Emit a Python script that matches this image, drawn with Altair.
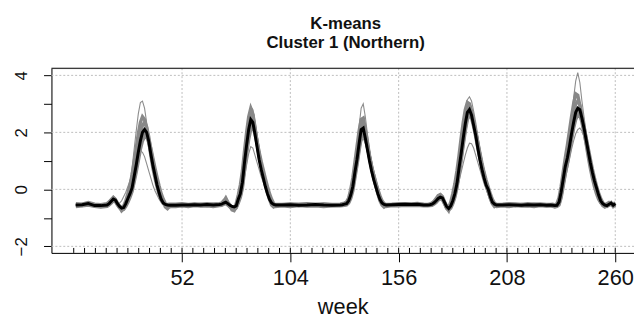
import altair as alt
import pandas as pd

# weeks at which the series were read (weekly in the epidemic seasons, sparser on the flat baseline)
weeks = ([1, 4, 7, 10, 13, 16] + list(range(17, 47)) +
         [49, 52, 55, 58, 61, 64, 67, 70] + list(range(71, 98)) +
         [100, 104, 108, 112, 116, 120, 124] + list(range(128, 151)) +
         [153, 156, 159, 162, 165, 168] + list(range(170, 204)) +
         [206, 209, 212, 215, 218, 221, 224, 227] + list(range(229, 261)))

# cluster centre (black line)
centre = [
    -0.55, -0.54, -0.50, -0.57, -0.57, -0.55,
    -0.50, -0.42, -0.34, -0.38, -0.50, -0.60, -0.66, -0.64, -0.50, -0.32, -0.15, 0.05, 0.45, 0.85, 1.30, 1.70, 2.00, 2.10, 2.00, 1.70, 1.25, 0.85, 0.50, 0.15, -0.12, -0.35, -0.48, -0.53, -0.55, -0.56,
    -0.56, -0.55, -0.55, -0.54, -0.55, -0.53, -0.55, -0.53,
    -0.52, -0.48, -0.45, -0.50, -0.56, -0.60, -0.62, -0.58, -0.35, -0.15, 0.25, 0.95, 1.55, 2.10, 2.45, 2.35, 1.95, 1.50, 1.05, 0.70, 0.40, 0.10, -0.15, -0.35, -0.48, -0.53, -0.55,
    -0.55, -0.54, -0.56, -0.55, -0.53, -0.55, -0.56,
    -0.55, -0.54, -0.52, -0.50, -0.40, -0.20, 0.10, 0.60, 1.05, 1.60, 2.10, 2.15, 1.80, 1.40, 1.00, 0.65, 0.35, 0.10, -0.15, -0.35, -0.48, -0.53, -0.55,
    -0.54, -0.53, -0.52, -0.53, -0.52, -0.55,
    -0.55, -0.54, -0.52, -0.47, -0.40, -0.32, -0.27, -0.30, -0.45, -0.60, -0.67, -0.58, -0.40, -0.15, 0.20, 0.75, 1.25, 1.80, 2.30, 2.70, 2.80, 2.60, 2.25, 1.90, 1.45, 1.05, 0.70, 0.40, 0.15, 0.00, -0.25, -0.45, -0.52, -0.55,
    -0.55, -0.54, -0.55, -0.56, -0.54, -0.55, -0.54, -0.56,
    -0.55, -0.56, -0.57, -0.56, -0.45, -0.10, 0.35, 0.80, 1.10, 1.50, 1.95, 2.35, 2.70, 2.85, 2.80, 2.50, 2.15, 1.75, 1.35, 0.95, 0.60, 0.30, 0.05, -0.20, -0.40, -0.50, -0.55, -0.57, -0.52, -0.48, -0.56, -0.50,
]

# cluster members (grey lines)
member_a = [
    -0.52, -0.50, -0.48, -0.53, -0.55, -0.52,
    -0.45, -0.35, -0.25, -0.30, -0.45, -0.55, -0.60, -0.55, -0.35, -0.05, 0.25, 0.75, 1.40, 2.05, 2.65, 3.05, 3.10, 2.85, 2.35, 1.75, 1.20, 0.75, 0.35, 0.05, -0.20, -0.40, -0.50, -0.55, -0.52, -0.54,
    -0.50, -0.52, -0.55, -0.50, -0.52, -0.55, -0.50, -0.48,
    -0.45, -0.38, -0.30, -0.40, -0.52, -0.58, -0.62, -0.55, -0.25, 0.05, 0.50, 1.20, 1.90, 2.55, 2.90, 2.80, 2.35, 1.85, 1.35, 0.95, 0.55, 0.20, -0.10, -0.32, -0.45, -0.52, -0.53,
    -0.52, -0.50, -0.55, -0.52, -0.50, -0.54, -0.52,
    -0.52, -0.50, -0.48, -0.45, -0.32, -0.05, 0.35, 0.95, 1.55, 2.20, 2.85, 3.00, 2.55, 1.95, 1.40, 0.90, 0.50, 0.15, -0.10, -0.32, -0.46, -0.52, -0.53,
    -0.50, -0.52, -0.50, -0.48, -0.50, -0.52,
    -0.52, -0.50, -0.47, -0.40, -0.30, -0.20, -0.15, -0.22, -0.40, -0.55, -0.62, -0.50, -0.25, 0.05, 0.45, 1.05, 1.65, 2.25, 2.80, 3.15, 3.25, 3.10, 2.75, 2.35, 1.90, 1.45, 1.05, 0.65, 0.35, 0.05, -0.20, -0.38, -0.48, -0.52,
    -0.50, -0.52, -0.55, -0.50, -0.52, -0.50, -0.53, -0.50,
    -0.52, -0.54, -0.55, -0.52, -0.38, 0.00, 0.50, 1.00, 1.45, 1.95, 2.55, 3.20, 3.80, 4.10, 3.75, 3.10, 2.55, 2.00, 1.50, 1.05, 0.65, 0.30, 0.02, -0.22, -0.40, -0.50, -0.54, -0.55, -0.50, -0.45, -0.52, -0.48,
]
member_b = [
    -0.58, -0.57, -0.55, -0.60, -0.58, -0.57,
    -0.55, -0.50, -0.45, -0.45, -0.50, -0.48, -0.40, -0.25, -0.10, 0.10, 0.30, 0.55, 0.80, 1.05, 1.25, 1.35, 1.30, 1.15, 0.90, 0.65, 0.40, 0.15, -0.05, -0.20, -0.35, -0.45, -0.52, -0.56, -0.58, -0.57,
    -0.57, -0.58, -0.56, -0.58, -0.57, -0.58, -0.56, -0.55,
    -0.55, -0.52, -0.50, -0.52, -0.56, -0.58, -0.60, -0.55, -0.40, -0.20, 0.10, 0.45, 0.85, 1.25, 1.50, 1.45, 1.20, 0.95, 0.70, 0.45, 0.25, 0.05, -0.15, -0.32, -0.45, -0.53, -0.56,
    -0.57, -0.56, -0.58, -0.57, -0.55, -0.57, -0.58,
    -0.57, -0.56, -0.55, -0.53, -0.45, -0.30, 0.00, 0.40, 0.85, 1.30, 1.65, 1.80, 1.60, 1.30, 1.00, 0.70, 0.40, 0.15, -0.10, -0.30, -0.45, -0.53, -0.57,
    -0.56, -0.55, -0.55, -0.56, -0.55, -0.57,
    -0.57, -0.56, -0.55, -0.50, -0.45, -0.38, -0.35, -0.40, -0.50, -0.62, -0.68, -0.60, -0.45, -0.25, 0.00, 0.30, 0.60, 0.90, 1.20, 1.45, 1.62, 1.60, 1.45, 1.20, 0.95, 0.70, 0.45, 0.20, 0.00, -0.18, -0.35, -0.48, -0.55, -0.57,
    -0.57, -0.56, -0.58, -0.57, -0.55, -0.57, -0.58, -0.56,
    -0.57, -0.58, -0.57, -0.55, -0.50, -0.30, 0.00, 0.35, 0.70, 1.05, 1.40, 1.70, 1.95, 2.10, 2.15, 2.05, 1.85, 1.60, 1.35, 1.05, 0.75, 0.45, 0.15, -0.10, -0.30, -0.45, -0.53, -0.57, -0.55, -0.52, -0.56, -0.53,
]
member_c = [
    -0.50, -0.52, -0.46, -0.52, -0.54, -0.50,
    -0.44, -0.36, -0.28, -0.35, -0.48, -0.58, -0.65, -0.58, -0.40, -0.15, 0.15, 0.50, 0.95, 1.45, 1.95, 2.35, 2.55, 2.45, 2.15, 1.70, 1.20, 0.75, 0.40, 0.10, -0.18, -0.38, -0.50, -0.55, -0.53, -0.52,
    -0.52, -0.50, -0.53, -0.51, -0.52, -0.50, -0.52, -0.50,
    -0.48, -0.42, -0.30, -0.45, -0.55, -0.62, -0.66, -0.50, -0.20, 0.15, 0.65, 1.35, 2.00, 2.55, 2.85, 2.65, 2.20, 1.70, 1.25, 0.85, 0.50, 0.20, -0.08, -0.30, -0.45, -0.52, -0.53,
    -0.53, -0.51, -0.52, -0.50, -0.52, -0.51, -0.53,
    -0.52, -0.50, -0.48, -0.44, -0.30, 0.00, 0.40, 0.95, 1.50, 2.05, 2.45, 2.50, 2.10, 1.65, 1.20, 0.80, 0.45, 0.15, -0.10, -0.32, -0.45, -0.52, -0.53,
    -0.52, -0.50, -0.50, -0.51, -0.49, -0.52,
    -0.53, -0.51, -0.48, -0.42, -0.32, -0.22, -0.18, -0.25, -0.42, -0.58, -0.65, -0.45, -0.15, 0.20, 0.65, 1.20, 1.80, 2.35, 2.80, 3.05, 3.00, 2.75, 2.40, 2.00, 1.55, 1.15, 0.80, 0.48, 0.20, -0.05, -0.28, -0.42, -0.50, -0.53,
    -0.52, -0.50, -0.51, -0.53, -0.50, -0.52, -0.51, -0.53,
    -0.53, -0.52, -0.54, -0.50, -0.30, 0.10, 0.60, 1.10, 1.55, 2.05, 2.55, 3.00, 3.35, 3.30, 2.95, 2.50, 2.05, 1.60, 1.15, 0.75, 0.40, 0.10, -0.15, -0.35, -0.47, -0.53, -0.54, -0.50, -0.46, -0.50, -0.52, -0.47,
]
member_d = [
    -0.60, -0.58, -0.55, -0.60, -0.62, -0.60,
    -0.55, -0.48, -0.40, -0.42, -0.55, -0.65, -0.72, -0.70, -0.60, -0.45, -0.28, -0.08, 0.25, 0.60, 1.00, 1.40, 1.70, 1.85, 1.85, 1.65, 1.30, 0.95, 0.60, 0.28, 0.00, -0.25, -0.42, -0.55, -0.62, -0.60,
    -0.60, -0.58, -0.60, -0.57, -0.59, -0.58, -0.60, -0.57,
    -0.56, -0.52, -0.50, -0.55, -0.62, -0.68, -0.70, -0.65, -0.48, -0.28, 0.05, 0.65, 1.25, 1.75, 2.10, 2.20, 1.95, 1.60, 1.20, 0.85, 0.55, 0.25, 0.00, -0.22, -0.42, -0.55, -0.60,
    -0.58, -0.60, -0.57, -0.59, -0.58, -0.60, -0.58,
    -0.58, -0.57, -0.56, -0.55, -0.48, -0.32, -0.05, 0.40, 0.85, 1.35, 1.80, 1.95, 1.80, 1.50, 1.15, 0.80, 0.50, 0.22, -0.05, -0.28, -0.45, -0.55, -0.60,
    -0.57, -0.58, -0.56, -0.57, -0.56, -0.58,
    -0.58, -0.57, -0.56, -0.52, -0.46, -0.38, -0.33, -0.36, -0.50, -0.66, -0.72, -0.66, -0.50, -0.28, 0.05, 0.50, 1.00, 1.55, 2.05, 2.45, 2.60, 2.50, 2.20, 1.85, 1.45, 1.08, 0.72, 0.42, 0.15, -0.08, -0.30, -0.48, -0.57, -0.60,
    -0.58, -0.60, -0.57, -0.59, -0.58, -0.60, -0.57, -0.59,
    -0.58, -0.60, -0.62, -0.60, -0.55, -0.30, 0.10, 0.55, 0.90, 1.30, 1.75, 2.15, 2.45, 2.60, 2.60, 2.35, 2.00, 1.65, 1.30, 0.90, 0.55, 0.25, -0.02, -0.25, -0.42, -0.52, -0.58, -0.60, -0.56, -0.52, -0.60, -0.55,
]
member_e = [
    -0.53, -0.57, -0.52, -0.55, -0.60, -0.53,
    -0.48, -0.38, -0.30, -0.40, -0.52, -0.62, -0.75, -0.68, -0.52, -0.30, -0.10, 0.15, 0.60, 1.05, 1.55, 1.95, 2.25, 2.35, 2.20, 1.85, 1.40, 0.98, 0.62, 0.28, -0.02, -0.28, -0.45, -0.62, -0.68, -0.60,
    -0.58, -0.53, -0.56, -0.52, -0.57, -0.55, -0.52, -0.55,
    -0.50, -0.40, -0.35, -0.48, -0.60, -0.72, -0.75, -0.62, -0.32, -0.05, 0.40, 1.10, 1.75, 2.35, 2.70, 2.60, 2.15, 1.65, 1.18, 0.80, 0.48, 0.15, -0.12, -0.35, -0.55, -0.62, -0.58,
    -0.55, -0.52, -0.57, -0.53, -0.56, -0.52, -0.55,
    -0.55, -0.53, -0.50, -0.48, -0.36, -0.12, 0.22, 0.75, 1.25, 1.80, 2.30, 2.40, 2.00, 1.55, 1.10, 0.72, 0.40, 0.12, -0.15, -0.40, -0.55, -0.62, -0.57,
    -0.53, -0.56, -0.52, -0.55, -0.53, -0.56,
    -0.56, -0.53, -0.50, -0.44, -0.36, -0.25, -0.20, -0.28, -0.48, -0.65, -0.75, -0.55, -0.32, -0.05, 0.35, 0.95, 1.50, 2.05, 2.55, 2.90, 2.95, 2.72, 2.35, 2.00, 1.60, 1.20, 0.85, 0.52, 0.22, -0.05, -0.32, -0.50, -0.60, -0.55,
    -0.55, -0.52, -0.57, -0.53, -0.56, -0.52, -0.55, -0.58,
    -0.55, -0.58, -0.60, -0.58, -0.45, -0.12, 0.40, 0.90, 1.30, 1.75, 2.20, 2.65, 3.00, 3.10, 2.95, 2.60, 2.20, 1.80, 1.40, 0.98, 0.60, 0.28, 0.00, -0.25, -0.45, -0.57, -0.62, -0.58, -0.50, -0.46, -0.58, -0.50,
]
member_f = [
    -0.57, -0.53, -0.52, -0.58, -0.55, -0.58,
    -0.52, -0.45, -0.38, -0.40, -0.52, -0.62, -0.68, -0.66, -0.55, -0.38, -0.20, 0.00, 0.35, 0.75, 1.15, 1.55, 1.85, 2.00, 1.95, 1.75, 1.45, 1.10, 0.75, 0.42, 0.12, -0.15, -0.35, -0.50, -0.58, -0.57,
    -0.55, -0.57, -0.54, -0.56, -0.53, -0.57, -0.55, -0.56,
    -0.53, -0.50, -0.48, -0.52, -0.58, -0.63, -0.65, -0.62, -0.42, -0.22, 0.15, 0.80, 1.40, 1.95, 2.30, 2.30, 2.05, 1.70, 1.32, 0.98, 0.68, 0.38, 0.10, -0.15, -0.35, -0.50, -0.57,
    -0.56, -0.53, -0.55, -0.57, -0.54, -0.56, -0.57,
    -0.56, -0.55, -0.53, -0.52, -0.44, -0.25, 0.05, 0.50, 0.95, 1.45, 1.95, 2.05, 1.85, 1.52, 1.15, 0.82, 0.52, 0.25, 0.00, -0.22, -0.40, -0.50, -0.56,
    -0.55, -0.54, -0.53, -0.54, -0.55, -0.54,
    -0.55, -0.55, -0.53, -0.48, -0.42, -0.35, -0.30, -0.33, -0.46, -0.62, -0.70, -0.62, -0.45, -0.20, 0.12, 0.62, 1.12, 1.65, 2.15, 2.55, 2.70, 2.62, 2.35, 2.02, 1.65, 1.28, 0.92, 0.60, 0.32, 0.08, -0.15, -0.35, -0.48, -0.55,
    -0.56, -0.54, -0.56, -0.55, -0.57, -0.54, -0.56, -0.55,
    -0.56, -0.57, -0.58, -0.57, -0.50, -0.22, 0.22, 0.68, 1.02, 1.40, 1.85, 2.25, 2.58, 2.72, 2.72, 2.48, 2.18, 1.82, 1.45, 1.08, 0.72, 0.40, 0.12, -0.12, -0.32, -0.46, -0.55, -0.58, -0.53, -0.50, -0.57, -0.52,
]

outliers = {"a": member_a, "b": member_b}
core = {"c": member_c, "d": member_d, "e": member_e, "f": member_f}

# axis furniture
x_major = [52, 104, 156, 208, 260]
x_minor = [round(52 * i / 10, 1) for i in range(51)]
y_ticks = [-2, -1, 0, 1, 2, 3, 4]
y_grid = [-2, 0, 2, 4]

for k, v in {**outliers, **core}.items():
    assert len(v) == len(weeks), (k, len(v))
assert len(centre) == len(weeks), len(centre)


def long_df(d):
    rows = []
    for name, vals in d.items():
        for w, v in zip(weeks, vals):
            rows.append({"week": w, "value": v, "series": name})
    return pd.DataFrame(rows)


centre_df = pd.DataFrame({"week": weeks, "value": centre})

W, H = 590, 187
FONT = "Liberation Sans"

xs = alt.Scale(domain=[-10.7, 269], nice=False, zero=False)
ys = alt.Scale(domain=[-2.23, 4.25], nice=False, zero=False)

x_axis = alt.Axis(values=x_major, title="week", grid=False, tickSize=9, tickColor="black",
                  domainColor="black", labelFontSize=22, labelFont=FONT, labelColor="#111",
                  labelPadding=6, labelFlush=False, labelOverlap=False,
                  titleFont=FONT, titleFontSize=22, titleFontWeight="normal",
                  titleColor="#111", titlePadding=8)
y_axis = alt.Axis(values=y_ticks, title=None, grid=False, tickSize=8, tickColor="black",
                  domainColor="black", labelFontSize=17, labelFont=FONT, labelColor="#111",
                  labelAngle=270, labelAlign="center", labelBaseline="bottom",
                  labelPadding=13, labelOverlap=False,
                  labelExpr="datum.value % 2 == 0 ? datum.label : ''")


def X(field):
    return alt.X(field, type="quantitative", scale=xs, axis=x_axis)


def Y(field):
    return alt.Y(field, type="quantitative", scale=ys, axis=y_axis)


grid_x = alt.Chart(pd.DataFrame({"g": x_major})).mark_rule(
    color="#bdbdbd", strokeDash=[2, 2], strokeWidth=1).encode(x=X("g"))
grid_y = alt.Chart(pd.DataFrame({"g": y_grid})).mark_rule(
    color="#bdbdbd", strokeDash=[2, 2], strokeWidth=1).encode(y=Y("g"))

minor = alt.Chart(pd.DataFrame({"t": x_minor})).mark_rule(color="black", strokeWidth=1).encode(
    x=X("t"), y=alt.value(H), y2=alt.value(H - 5))

top_border = alt.Chart(pd.DataFrame({"a": [0]})).mark_rule(color="black", strokeWidth=1).encode(
    y=alt.value(0), x=alt.value(0), x2=alt.value(W))

grey_thin = alt.Chart(long_df(outliers)).mark_line(color="#8c8c8c", strokeWidth=1.1).encode(
    x=X("week"), y=Y("value"), detail="series:N")
grey_core = alt.Chart(long_df(core)).mark_line(color="#888888", strokeWidth=3.4).encode(
    x=X("week"), y=Y("value"), detail="series:N")

black = alt.Chart(centre_df).mark_line(color="black", strokeWidth=3).encode(
    x=X("week"), y=Y("value"))

chart = alt.layer(grid_x, grid_y, grey_thin, grey_core, black, minor, top_border).properties(
    width=W, height=H,
    title=alt.TitleParams(["K-means", "Cluster 1 (Northern)"], font=FONT, fontSize=17,
                          fontWeight="bold", color="#111", anchor="middle", offset=16,
                          lineHeight=19.5, dx=3),
    autosize=alt.AutoSizeParams(type="none"),
    padding={"left": 44, "top": 59, "right": 0, "bottom": 72},
).configure_view(stroke=None).configure(background="white")

chart.save("out.html", embed_options={"renderer": "svg", "actions": False})
